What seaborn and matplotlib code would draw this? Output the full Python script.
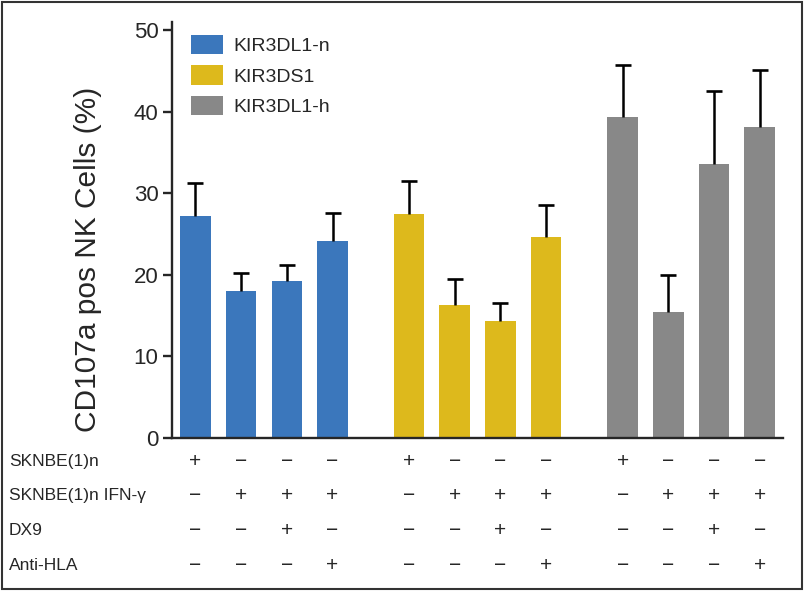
import numpy as np
import pandas as pd
import seaborn as sns
import matplotlib
matplotlib.use("Agg")
import matplotlib.pyplot as plt
from matplotlib.patches import Rectangle
from matplotlib.transforms import blended_transform_factory

# values
groups = ["KIR3DL1-n", "KIR3DS1", "KIR3DL1-h"]
colors = ["#3B77BC", "#DDB91C", "#888888"]
means_n = [27.2, 18.0, 19.3, 24.2]
means_s1 = [27.4, 16.3, 14.4, 24.6]
means_h = [39.4, 15.4, 33.6, 38.1]
err_n = [4.0, 2.2, 1.9, 3.4]
err_s1 = [4.1, 3.2, 2.2, 4.0]
err_h = [6.3, 4.6, 8.9, 7.0]

row_labels = ["SKNBE(1)n", "SKNBE(1)n IFN-\u03b3", "DX9", "Anti-HLA"]
conditions = [
    ["+", "\u2212", "\u2212", "\u2212"],
    ["\u2212", "+", "+", "+"],
    ["\u2212", "\u2212", "+", "\u2212"],
    ["\u2212", "\u2212", "\u2212", "+"],
]

sns.set_style("ticks")
plt.rcParams["font.family"] = ["Liberation Sans", "DejaVu Sans"]

means = [means_n, means_s1, means_h]
errs = [err_n, err_s1, err_h]
gap = 4.675
rows = []
for g, name in enumerate(groups):
    for i in range(4):
        rows.append({"pos": g * gap + i, "value": means[g][i], "err": errs[g][i], "group": name})
df = pd.DataFrame(rows)

fig = plt.figure(figsize=(8.06, 5.92), dpi=100)
ax = fig.add_axes([0.213, 0.26, 0.7585, 0.703])

sns.barplot(data=df, x="pos", y="value", hue="group", hue_order=groups,
            palette=colors, native_scale=True, width=0.67, dodge=False,
            errorbar=None, saturation=1, linewidth=0, ax=ax)

# upper error bars only: stem + cap on top
tops = df["value"] + df["err"]
ax.vlines(df["pos"], df["value"], tops, color="black", linewidth=1.8)
ax.plot(df["pos"], tops, linestyle="none", marker="_", markersize=11,
        markeredgewidth=1.9, color="black")

ax.set_xlim(-0.52, 12.86)
ax.set_ylim(0, 51)
ax.set_yticks([0, 10, 20, 30, 40, 50])
ax.set_xticks([])
ax.set_xlabel("")
ax.set_ylabel("")
for s in ["top", "right"]:
    ax.spines[s].set_visible(False)
for s in ["left", "bottom"]:
    ax.spines[s].set_linewidth(1.7)
ax.tick_params(axis="y", labelsize=16, width=1.7, length=6.5, pad=3)

fig.text(0.109, 0.5625, "CD107a pos NK Cells (%)", rotation=90,
         ha="center", va="center", fontsize=21.5)

ax.legend(loc="upper left", bbox_to_anchor=(0.026, 0.978), frameon=False,
          fontsize=14, handlelength=1.6, handleheight=1.15,
          labelspacing=0.52, handletextpad=0.55, borderaxespad=0, borderpad=0.2)

# condition table below the bars
trans = blended_transform_factory(ax.transData, fig.transFigure)
row_y = [0.2196, 0.1622, 0.1047, 0.0456]
positions = df["pos"].values
for r, label in enumerate(row_labels):
    fig.text(0.011, row_y[r], label, ha="left", va="center", fontsize=12.5)
    for k, x in enumerate(positions):
        ax.text(x, row_y[r], conditions[r][k % 4], transform=trans,
                ha="center", va="center", fontsize=15, clip_on=False)

fig.patches.append(Rectangle((0.002, 0.005), 0.993, 0.991, transform=fig.transFigure,
                             fill=False, edgecolor="#333333", linewidth=1.5))

fig.savefig("out.png", dpi=100)
